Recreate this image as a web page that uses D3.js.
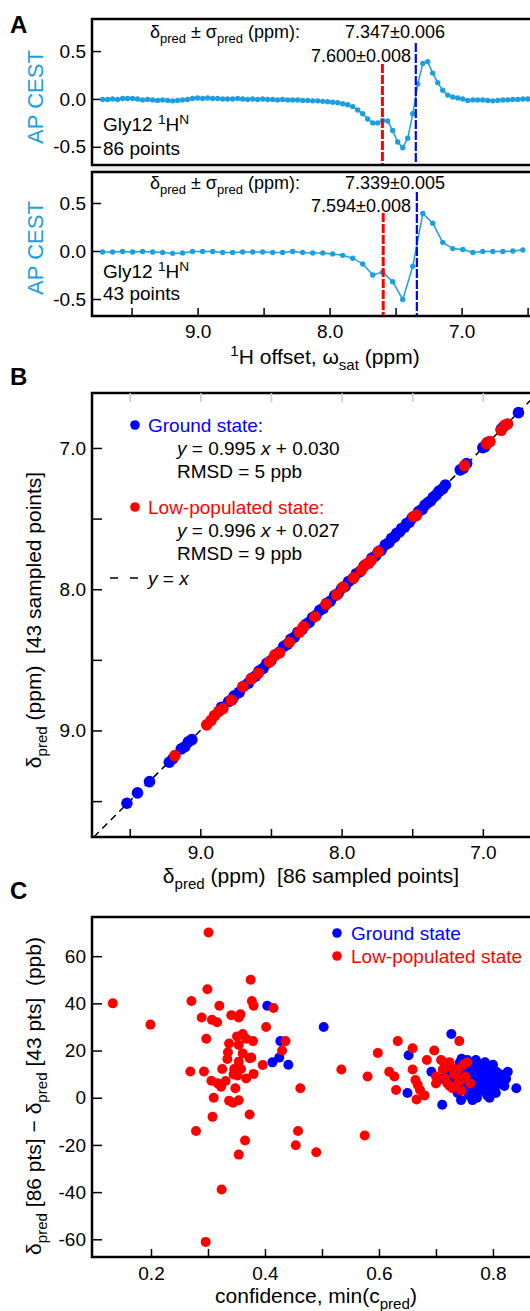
<!DOCTYPE html>
<html>
<head>
<meta charset="utf-8">
<script src="https://cdn.jsdelivr.net/npm/d3@7"></script>
<style>
body { margin: 0; background: #fff; }
text { font-family: 'Liberation Sans', Arial, Helvetica, sans-serif; }
</style>
</head>
<body>
<script>
/* DATA
------------------------------------------------------ */

// panel A : AP CEST profiles of Gly12 1HN
const offsets86 = [9.720, 9.682, 9.644, 9.606, 9.568, 9.531, 9.493, 9.455, 9.417, 9.379,
  9.341, 9.303, 9.265, 9.227, 9.189, 9.152, 9.114, 9.076, 9.038, 9.000,
  8.962, 8.924, 8.886, 8.848, 8.810, 8.773, 8.735, 8.697, 8.659, 8.621,
  8.583, 8.545, 8.507, 8.469, 8.431, 8.394, 8.356, 8.318, 8.280, 8.242,
  8.204, 8.166, 8.128, 8.090, 8.052, 8.015, 7.977, 7.939, 7.901, 7.863,
  7.825, 7.787, 7.749, 7.711, 7.673, 7.636, 7.598, 7.560, 7.522, 7.484,
  7.446, 7.408, 7.370, 7.332, 7.294, 7.257, 7.219, 7.181, 7.143, 7.105,
  7.067, 7.029, 6.991, 6.953, 6.915, 6.878, 6.840, 6.802, 6.764, 6.726,
  6.688, 6.650, 6.612, 6.574, 6.536, 6.499];
const cest86 = [-0.005, -0.005, 0, -0.005, 0.005, 0.005, 0.005, 0, -0.01, -0.005,
  -0.01, -0.015, -0.01, -0.015, -0.02, -0.015, -0.01, -0.005, 0.005, 0.01,
  0.005, 0.01, 0.005, 0.005, 0, 0, 0, 0.005, 0, -0.005,
  0, -0.005, 0, -0.005, -0.005, -0.01, -0.005, -0.01, -0.01, -0.01,
  -0.015, -0.015, -0.02, -0.02, -0.025, -0.03, -0.035, -0.04, -0.05, -0.06,
  -0.08, -0.115, -0.155, -0.21, -0.25, -0.25, -0.225, -0.23, -0.33, -0.45,
  -0.51, -0.41, -0.155, 0.155, 0.37, 0.39, 0.27, 0.17, 0.09, 0.04,
  0.02, 0.01, 0, -0.015, -0.01, -0.01, -0.01, -0.015, -0.02, -0.015,
  -0.01, -0.01, -0.005, -0.005, 0, 0];

const offsets43 = [9.720, 9.644, 9.568, 9.493, 9.417, 9.341, 9.265, 9.189, 9.114, 9.038,
  8.962, 8.886, 8.810, 8.735, 8.659, 8.583, 8.507, 8.431, 8.356, 8.280,
  8.204, 8.128, 8.052, 7.977, 7.901, 7.825, 7.749, 7.673, 7.598, 7.522,
  7.446, 7.370, 7.294, 7.219, 7.143, 7.067, 6.991, 6.915, 6.840, 6.764,
  6.688, 6.612, 6.536];
const cest43 = [-0.01, -0.01, -0.005, -0.01, -0.005, -0.01, -0.015, -0.025, -0.02, -0.005,
  -0.005, -0.005, -0.015, -0.015, -0.01, -0.01, -0.01, -0.015, -0.015, -0.005,
  -0.015, -0.02, -0.02, -0.03, -0.045, -0.075, -0.135, -0.25, -0.22, -0.32,
  -0.505, -0.16, 0.39, 0.29, 0.09, 0.025, 0.015, -0.015, -0.005, -0.005,
  -0.005, 0, 0.01];

const predA86 = {gs: 7.347, gsErr: "7.347±0.006", lp: 7.600, lpErr: "7.600±0.008"};
const predA43 = {gs: 7.339, gsErr: "7.339±0.005", lp: 7.594, lpErr: "7.594±0.008"};

// panel B : predicted shifts, 86 vs 43 sampled points
const gsPred86 = [6.748, 6.855, 6.870, 6.965, 6.985, 7.000, 7.115, 7.140, 7.160, 7.265,
  7.285, 7.310, 7.330, 7.350, 7.370, 7.390, 7.410, 7.430, 7.455, 7.475,
  7.500, 7.520, 7.540, 7.555, 7.575, 7.590, 7.610, 7.625, 7.645, 7.665,
  7.690, 7.720, 7.740, 7.760, 7.785, 7.810, 7.840, 7.870, 7.895, 7.920,
  7.950, 7.975, 8.000, 8.025, 8.050, 8.080, 8.105, 8.130, 8.155, 8.180,
  8.205, 8.230, 8.255, 8.280, 8.310, 8.335, 8.360, 8.385, 8.410, 8.440,
  8.470, 8.500, 8.530, 8.555, 8.585, 8.610, 8.635, 8.660, 8.690, 8.725,
  8.760, 8.775, 8.800, 8.850, 9.060, 9.085, 9.110, 9.135, 9.195, 9.220,
  9.360, 9.445, 9.520];
const gsPred43 = [6.750, 6.850, 6.868, 6.960, 6.990, 6.998, 7.110, 7.145, 7.155, 7.262,
  7.290, 7.305, 7.332, 7.348, 7.375, 7.388, 7.405, 7.435, 7.450, 7.480,
  7.495, 7.525, 7.535, 7.560, 7.570, 7.595, 7.605, 7.630, 7.640, 7.670,
  7.685, 7.725, 7.735, 7.765, 7.780, 7.815, 7.835, 7.875, 7.890, 7.925,
  7.945, 7.980, 7.995, 8.030, 8.045, 8.085, 8.100, 8.135, 8.150, 8.185,
  8.200, 8.235, 8.250, 8.285, 8.305, 8.340, 8.355, 8.390, 8.405, 8.445,
  8.465, 8.505, 8.525, 8.560, 8.580, 8.615, 8.630, 8.665, 8.685, 8.730,
  8.755, 8.780, 8.795, 8.835, 9.065, 9.080, 9.115, 9.130, 9.200, 9.225,
  9.362, 9.442, 9.515];
const lpPred86 = [6.825, 6.845, 6.870, 6.950, 6.975, 7.130, 7.470, 7.490, 7.740, 7.790,
  7.810, 7.830, 7.860, 7.915, 7.990, 8.035, 8.110, 8.190, 8.270, 8.300,
  8.370, 8.440, 8.475, 8.510, 8.590, 8.640, 8.700, 8.780, 8.840, 8.870,
  8.900, 8.925, 8.955, 9.180];
const lpPred43 = [6.830, 6.840, 6.875, 6.955, 6.970, 7.125, 7.475, 7.485, 7.735, 7.795,
  7.815, 7.825, 7.865, 7.920, 7.985, 8.040, 8.105, 8.195, 8.265, 8.305,
  8.375, 8.450, 8.470, 8.515, 8.595, 8.635, 8.690, 8.785, 8.845, 8.865,
  8.895, 8.930, 8.960, 9.178];

// panel C : shift difference (ppb) vs confidence
const lpConf = [0.133, 0.199, 0.301, 0.375, 0.299, 0.271, 0.320, 0.377, 0.380, 0.415,
  0.289, 0.341, 0.357, 0.354, 0.307, 0.316, 0.402, 0.297, 0.351, 0.361,
  0.367, 0.379, 0.354, 0.337, 0.335, 0.334, 0.361, 0.373, 0.376, 0.354,
  0.325, 0.346, 0.358, 0.345, 0.352, 0.367, 0.380, 0.396, 0.436, 0.430,
  0.462, 0.269, 0.293, 0.306, 0.317, 0.323, 0.331, 0.348, 0.310, 0.337,
  0.344, 0.354, 0.308, 0.373, 0.279, 0.365, 0.354, 0.458, 0.454, 0.490,
  0.324, 0.296,
  0.534, 0.580, 0.575, 0.598, 0.633, 0.618, 0.627, 0.630, 0.659, 0.659,
  0.664, 0.668, 0.672, 0.666, 0.680, 0.684, 0.697, 0.741, 0.700, 0.700,
  0.709, 0.714, 0.719, 0.724, 0.712, 0.716, 0.720, 0.724, 0.729, 0.735,
  0.740, 0.745, 0.738, 0.748, 0.755, 0.752, 0.732, 0.726, 0.760, 0.745];
const lpDiff = [40, 31, 70, 50, 46, 41, 39, 41, 39, 38,
  34, 35, 35.4, 34, 33, 32, 30, 25, 26, 27,
  25, 24, 22.4, 23, 19.3, 16.4, 18.8, 16.7, 17, 15.3,
  12.2, 12.2, 12.2, 9.9, 9.4, 8.2, 10.1, 13.9, 24, 20,
  4, 11.1, 11.1, 7.2, 6.1, 4.7, 7.1, 4.0, 0, -1.3,
  -2.1, -1.1, -8.1, -7.1, -14.1, -18.1, -24.1, -14.1, -20.1, -23.1,
  -38.9, -61.1,
  12, 9, -16, 19, 24, 11, 9, 3.3, 21, 12,
  7.5, 5.5, 3.3, -0.7, 1, 16, 20, 24, 9, 6,
  16, 15, 14, 15, 12, 8, 6, 5, 4, 5,
  7, 8, 12, 14, 15, 9, 10, 13, 6, 3];

const gsConf = [0.404, 0.427, 0.425, 0.413, 0.441, 0.503,
  0.727, 0.652, 0.650, 0.711, 0.692, 0.841, 0.826, 0.744, 0.764, 0.794, 0.745,
  0.735, 0.740, 0.742, 0.745, 0.748, 0.750, 0.752, 0.755, 0.755, 0.758,
  0.760, 0.762, 0.763, 0.765, 0.766, 0.768, 0.770, 0.771, 0.773, 0.774,
  0.776, 0.778, 0.779, 0.780, 0.781, 0.782, 0.784, 0.785, 0.786, 0.788,
  0.789, 0.790, 0.791, 0.793, 0.794, 0.795, 0.797, 0.798, 0.800, 0.801,
  0.803, 0.805, 0.806, 0.808, 0.810, 0.812, 0.815, 0.818, 0.820, 0.823,
  0.728, 0.725, 0.732, 0.738, 0.758, 0.772, 0.790, 0.805, 0.770, 0.786,
  0.800, 0.745, 0.712, 0.718];
const gsDiff = [39, 24, 17, 15, 14, 30,
  27, 18, 2, -3, 11, 4, 11, -1, -1, 0, 16.5,
  12, 9, 15, 6, 11, 13, 8, 4, 16, 10,
  7, 12, 14, 5, 9, 2, 11, 7, 13, 4,
  9, 6, 11, 14, 3, 8, 10, 12, 5, 7,
  9, 13, 3, 11, 6, 8, 10, 4, 12, 7,
  9, 5, 11, 8, 6, 10, 7, 9, 5, 8,
  9, 6, 4, 2, 1, 0, 1, 2, 16, 15,
  14, 12.5, 8, 11];

const ticksPpm = [9.5, 9.0, 8.5, 8.0, 7.5, 7.0, 6.5];
const ticksCest = [0.5, 0.0, -0.5];
const ticksConf = [0.2, 0.3, 0.4, 0.5, 0.6, 0.7, 0.8];
const ticksDiff = [60, 40, 20, 0, -20, -40, -60];

/* SVG
------------------------------------------------------ */
const W = 530, H = 1311;
const cyan = "#1c9fe0", blue = "#0000ff", red = "#ff0000";
const svg = d3.select("body").append("svg")
  .attr("width", W).attr("height", H)
  .style("display", "block");

// text with sub/superscripts and italics
function rich(sel, parts, size) {
  let shift = 0;
  parts.forEach(p => {
    const s = p[0], m = p[1];
    const t = sel.append("tspan").text(s);
    const target = m === "sub" ? size * 0.3 : m === "sup" ? -size * 0.38 : 0;
    if (target !== shift) { t.attr("dy", target - shift); shift = target; }
    if (m === "sub" || m === "sup") t.attr("font-size", size * 0.72);
    if (m === "i") t.attr("font-style", "italic");
  });
  return sel;
}
function label(x, y, parts, opts) {
  opts = opts || {};
  const size = opts.size || 19;
  const t = svg.append("text")
    .attr("x", x).attr("y", y)
    .attr("font-size", size)
    .attr("fill", opts.fill || "#000")
    .attr("text-anchor", opts.anchor || "start")
    .style("white-space", "pre");
  if (opts.rotate) t.attr("x", 0).attr("y", 0).attr("transform", `translate(${x},${y}) rotate(-90)`);
  if (opts.weight) t.attr("font-weight", opts.weight);
  return rich(t, parts, size);
}
function styleAxis(g) {
  g.select(".domain").remove();
  g.selectAll(".tick line").attr("stroke", "#000").attr("stroke-width", 1.5);
  g.selectAll(".tick text").attr("font-size", 19).attr("fill", "#000")
    .style("font-family", "'Liberation Sans', Arial, Helvetica, sans-serif");
}
function frame(x0, y0, x1, y1) {
  svg.append("rect")
    .attr("x", x0).attr("y", y0)
    .attr("width", x1 - x0).attr("height", y1 - y0)
    .attr("fill", "none").attr("stroke", "#000").attr("stroke-width", 2.5);
}

/* PANEL A
------------------------------------------------------ */
const L = 92, R = 542;
const xA = d3.scaleLinear().domain([9.8, 6.45]).range([L, L + 3.35 * 132]);
const panelsA = [
  {top: 19, bottom: 165, yDom: [-0.69, 0.835], off: offsets86, val: cest86, pred: predA86, name: "86 points",
   txtY: 38, lpY: 62, lpTop: 64, gsTop: 43, glyY: 131, ptsY: 155, labY: 97},
  {top: 172, bottom: 316, yDom: [-0.677, 0.823], off: offsets43, val: cest43, pred: predA43, name: "43 points",
   txtY: 189, lpY: 212, lpTop: 213, gsTop: 192, glyY: 278, ptsY: 300, labY: 248}
];

svg.append("rect").attr("x", L).attr("y", 166.5).attr("width", R - L).attr("height", 4.5).attr("fill", "#ececec");

panelsA.forEach((p, k) => {
  const y = d3.scaleLinear().domain(p.yDom).range([p.bottom, p.top]);
  frame(L, p.top, R, p.bottom);

  svg.append("g").attr("transform", `translate(${L},0)`)
    .call(d3.axisLeft(y).tickValues(ticksCest).tickFormat(d => d.toFixed(1)).tickSize(-9).tickPadding(6))
    .call(styleAxis);

  if (k === 1) {
    svg.append("g").attr("transform", `translate(0,${p.bottom})`)
      .call(d3.axisBottom(xA).tickValues(ticksPpm)
        .tickFormat(d => Number.isInteger(d) ? d.toFixed(1) : "").tickSize(-8).tickPadding(9))
      .call(styleAxis);
  }

  const pts = p.off.map((o, i) => [o, p.val[i]]);
  svg.append("path").datum(pts)
    .attr("fill", "none").attr("stroke", cyan).attr("stroke-width", 1.5)
    .attr("d", d3.line().x(d => xA(d[0])).y(d => y(d[1])));
  svg.append("g").selectAll("circle").data(pts).join("circle")
    .attr("cx", d => xA(d[0])).attr("cy", d => y(d[1])).attr("r", 2.7).attr("fill", cyan);

  svg.append("line")
    .attr("x1", xA(p.pred.lp)).attr("x2", xA(p.pred.lp))
    .attr("y1", p.lpTop).attr("y2", p.bottom - 1)
    .attr("stroke", red).attr("stroke-width", 3).attr("stroke-dasharray", "9,2");
  svg.append("line")
    .attr("x1", xA(p.pred.gs)).attr("x2", xA(p.pred.gs))
    .attr("y1", p.gsTop).attr("y2", p.bottom - 1)
    .attr("stroke", blue).attr("stroke-width", 2.2).attr("stroke-dasharray", "9,2");

  label(150, p.txtY, [["δ"], ["pred", "sub"], [" ± σ"], ["pred", "sub"], [" (ppm):"]], {size: 18});
  label(345, p.txtY, [[p.pred.gsErr]], {size: 18});
  label(411, p.lpY, [[p.pred.lpErr]], {size: 18, anchor: "end"});
  label(103, p.glyY, [["Gly12 "], ["1", "sup"], ["H"], ["N", "sup"]]);
  label(103, p.ptsY, [[p.name]]);
  label(43, p.labY, [["AP CEST"]], {size: 22, fill: cyan, anchor: "middle", rotate: true});
});

label(325, 364, [["1", "sup"], ["H offset, ω"], ["sat", "sub"], [" (ppm)"]], {size: 21, anchor: "middle"});
label(10, 33, [["A"]], {size: 24, weight: "bold"});

/* PANEL B
------------------------------------------------------ */
const bTop = 393, bBottom = 837;
const xB = d3.scaleLinear().domain([9.76, 6.66]).range([93, 93 + 3.1 * 141.25]);
const yB = d3.scaleLinear().domain([6.611, 9.754]).range([bTop, bBottom]);

frame(L, bTop, R, bBottom);

svg.append("g").attr("transform", `translate(0,${bBottom})`)
  .call(d3.axisBottom(xB).tickValues(ticksPpm.slice(0, 6))
    .tickFormat(d => Number.isInteger(d) ? d.toFixed(1) : "").tickSize(-8).tickPadding(9))
  .call(styleAxis);
svg.append("g").attr("transform", `translate(0,${bTop})`)
  .call(d3.axisTop(xB).tickValues(ticksPpm.slice(0, 6)).tickFormat("").tickSize(-9))
  .call(styleAxis)
  .selectAll(".tick line").attr("stroke", "#c8c8c8");
svg.append("g").attr("transform", `translate(${L},0)`)
  .call(d3.axisLeft(yB).tickValues(ticksPpm.slice(0, 6))
    .tickFormat(d => Number.isInteger(d) ? d.toFixed(1) : "").tickSize(-10).tickPadding(6))
  .call(styleAxis);

// y = x
const lo = 6.66, hi = 9.754;
svg.append("line")
  .attr("x1", xB(hi)).attr("y1", yB(hi)).attr("x2", xB(lo)).attr("y2", yB(lo))
  .attr("stroke", "#000").attr("stroke-width", 1.5).attr("stroke-dasharray", "7,5");

svg.append("g").selectAll("circle").data(gsPred86.map((v, i) => [v, gsPred43[i]])).join("circle")
  .attr("cx", d => xB(d[0])).attr("cy", d => yB(d[1])).attr("r", 5.8).attr("fill", blue);
svg.append("g").selectAll("circle").data(lpPred86.map((v, i) => [v, lpPred43[i]])).join("circle")
  .attr("cx", d => xB(d[0])).attr("cy", d => yB(d[1])).attr("r", 5.8).attr("fill", red);

// legend B
svg.append("circle").attr("cx", 135).attr("cy", 425).attr("r", 4.8).attr("fill", blue);
label(148, 432, [["Ground state:"]], {fill: blue});
label(177, 455, [["y", "i"], [" = 0.995 "], ["x", "i"], [" + 0.030"]]);
label(177, 478, [["RMSD = 5 ppb"]]);
svg.append("circle").attr("cx", 135).attr("cy", 507).attr("r", 4.8).attr("fill", red);
label(148, 514, [["Low-populated state:"]], {fill: red});
label(177, 537, [["y", "i"], [" = 0.996 "], ["x", "i"], [" + 0.027"]]);
label(177, 560, [["RMSD = 9 ppb"]]);
svg.append("line").attr("x1", 110).attr("x2", 138).attr("y1", 578).attr("y2", 578)
  .attr("stroke", "#000").attr("stroke-width", 1.5).attr("stroke-dasharray", "8,12");
label(148, 585, [["y", "i"], [" = "], ["x", "i"]]);

label(41, 620, [["δ"], ["pred", "sub"], [" (ppm)  [43 sampled points]"]], {size: 21, anchor: "middle", rotate: true});
label(311, 883, [["δ"], ["pred", "sub"], [" (ppm)  [86 sampled points]"]], {size: 21, anchor: "middle"});
label(10, 385, [["B"]], {size: 24, weight: "bold"});

/* PANEL C
------------------------------------------------------ */
const cTop = 917, cBottom = 1257;
const xC = d3.scaleLinear().domain([0.1, 0.865]).range([94, 530]);
const yC = d3.scaleLinear().domain([-67.5, 76.6]).range([cBottom, cTop]);

frame(L, cTop, R, cBottom);
svg.append("g").attr("transform", `translate(0,${cBottom})`)
  .call(d3.axisBottom(xC).tickValues(ticksConf)
    .tickFormat(d => [0.2, 0.4, 0.6, 0.8].includes(d) ? d.toFixed(1) : "").tickSize(-8).tickPadding(10))
  .call(styleAxis);
svg.append("g").attr("transform", `translate(${L},0)`)
  .call(d3.axisLeft(yC).tickValues(ticksDiff).tickFormat(d => String(d)).tickSize(-10).tickPadding(6))
  .call(styleAxis);

svg.append("g").selectAll("circle").data(gsConf.map((v, i) => [v, gsDiff[i]])).join("circle")
  .attr("cx", d => xC(d[0])).attr("cy", d => yC(d[1])).attr("r", 5).attr("fill", blue);
svg.append("g").selectAll("circle").data(lpConf.map((v, i) => [v, lpDiff[i]])).join("circle")
  .attr("cx", d => xC(d[0])).attr("cy", d => yC(d[1])).attr("r", 5).attr("fill", red);

svg.append("circle").attr("cx", 337).attr("cy", 933).attr("r", 4.8).attr("fill", blue);
label(351, 940, [["Ground state"]], {fill: blue});
svg.append("circle").attr("cx", 337).attr("cy", 956).attr("r", 4.8).attr("fill", red);
label(351, 963, [["Low-populated state"]], {fill: red});

label(41, 1096, [["δ"], ["pred", "sub"], [" [86 pts] − δ"], ["pred", "sub"], [" [43 pts]  (ppb)"]], {size: 21, anchor: "middle", rotate: true});
label(316, 1303, [["confidence, min(c"], ["pred", "sub"], [")"]], {size: 21, anchor: "middle"});
label(10, 899, [["C"]], {size: 24, weight: "bold"});
</script>
</body>
</html>
